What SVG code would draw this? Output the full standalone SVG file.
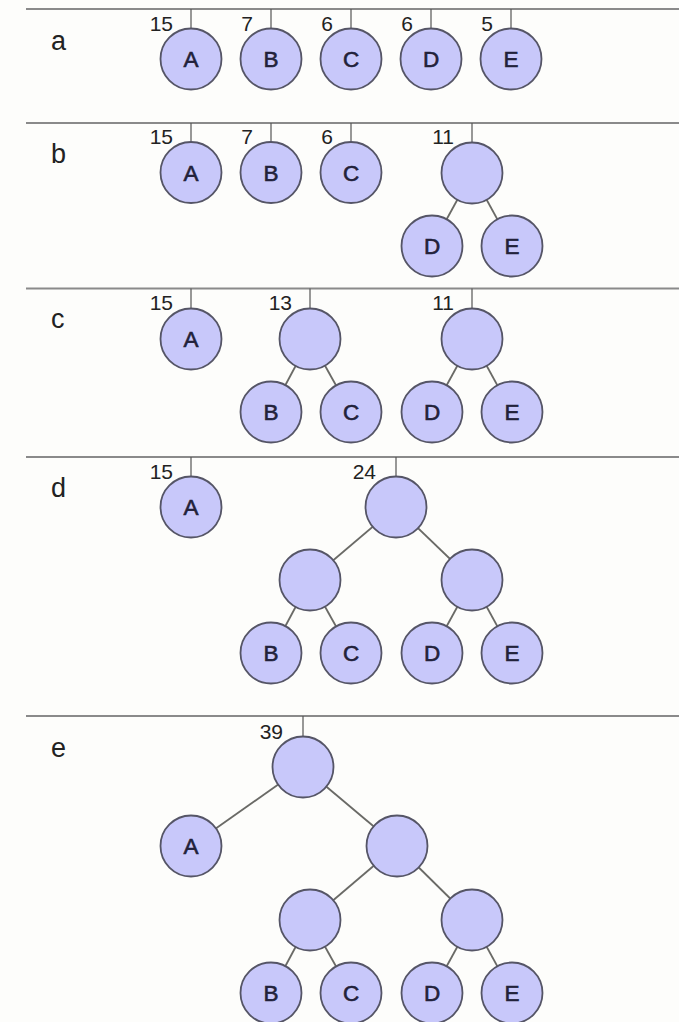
<svg xmlns="http://www.w3.org/2000/svg" width="679" height="1022" viewBox="0 0 679 1022">
<style>
.bg{fill:#fdfdfb}
.sep{stroke:#8a8a8a;stroke-width:2}
.tick{stroke:#555;stroke-width:1.2}
.edge{stroke:#6a6a66;stroke-width:1.8}
.n{fill:#c8c8fa;stroke:#555566;stroke-width:1.8}
.lt{font-family:"Liberation Sans",Arial,sans-serif;font-size:22.5px;fill:#22223a;stroke:#22223a;stroke-width:0.6;text-anchor:middle}
.num{font-family:"Liberation Sans",Arial,sans-serif;font-size:21px;fill:#222;text-anchor:end}
.sec{font-family:"Liberation Sans",Arial,sans-serif;font-size:27px;fill:#222}
</style>
<rect class="bg" x="0" y="0" width="679" height="1022"/>
<g id="separators">
<line class="sep" x1="26" y1="9" x2="679" y2="9"/>
<line class="sep" x1="26" y1="123" x2="679" y2="123"/>
<line class="sep" x1="26" y1="288.5" x2="679" y2="288.5"/>
<line class="sep" x1="26" y1="457" x2="679" y2="457"/>
<line class="sep" x1="26" y1="716" x2="679" y2="716"/>
</g>
<g id="section-labels">
<text class="sec" x="51" y="50">a</text>
<text class="sec" x="51" y="163">b</text>
<text class="sec" x="51" y="328">c</text>
<text class="sec" x="51" y="497">d</text>
<text class="sec" x="51" y="757">e</text>
</g>
<g id="connectors">
<line class="tick" x1="191" y1="9" x2="191" y2="29"/>
<line class="tick" x1="271" y1="9" x2="271" y2="29"/>
<line class="tick" x1="351" y1="9" x2="351" y2="29"/>
<line class="tick" x1="431" y1="9" x2="431" y2="29"/>
<line class="tick" x1="511" y1="9" x2="511" y2="29"/>
<line class="tick" x1="191" y1="123" x2="191" y2="143"/>
<line class="tick" x1="271" y1="123" x2="271" y2="143"/>
<line class="tick" x1="351" y1="123" x2="351" y2="143"/>
<line class="tick" x1="472" y1="123" x2="472" y2="143"/>
<line class="tick" x1="191" y1="288.5" x2="191" y2="309"/>
<line class="tick" x1="310" y1="288.5" x2="310" y2="309"/>
<line class="tick" x1="472" y1="288.5" x2="472" y2="309"/>
<line class="tick" x1="191" y1="457" x2="191" y2="477"/>
<line class="tick" x1="396" y1="457" x2="396" y2="477"/>
<line class="tick" x1="303" y1="716" x2="303" y2="737"/>
<line class="edge" x1="472" y1="173" x2="432" y2="246"/>
<line class="edge" x1="472" y1="173" x2="512" y2="246"/>
<line class="edge" x1="310" y1="339" x2="271" y2="412"/>
<line class="edge" x1="310" y1="339" x2="351" y2="412"/>
<line class="edge" x1="472" y1="339" x2="432" y2="412"/>
<line class="edge" x1="472" y1="339" x2="512" y2="412"/>
<line class="edge" x1="396" y1="507" x2="310" y2="580"/>
<line class="edge" x1="396" y1="507" x2="472" y2="580"/>
<line class="edge" x1="310" y1="580" x2="271" y2="653"/>
<line class="edge" x1="310" y1="580" x2="351" y2="653"/>
<line class="edge" x1="472" y1="580" x2="432" y2="653"/>
<line class="edge" x1="472" y1="580" x2="512" y2="653"/>
<line class="edge" x1="303" y1="767" x2="191" y2="846"/>
<line class="edge" x1="303" y1="767" x2="397" y2="846"/>
<line class="edge" x1="397" y1="846" x2="310" y2="920"/>
<line class="edge" x1="397" y1="846" x2="472" y2="920"/>
<line class="edge" x1="310" y1="920" x2="271" y2="993"/>
<line class="edge" x1="310" y1="920" x2="351" y2="993"/>
<line class="edge" x1="472" y1="920" x2="432" y2="993"/>
<line class="edge" x1="472" y1="920" x2="512" y2="993"/>
</g>
<g id="weights">
<text class="num" x="173" y="31">15</text>
<text class="num" x="253" y="31">7</text>
<text class="num" x="333" y="31">6</text>
<text class="num" x="413" y="31">6</text>
<text class="num" x="493" y="31">5</text>
<text class="num" x="173" y="144">15</text>
<text class="num" x="253" y="144">7</text>
<text class="num" x="333" y="144">6</text>
<text class="num" x="454" y="144">11</text>
<text class="num" x="173" y="310">15</text>
<text class="num" x="292" y="310">13</text>
<text class="num" x="454" y="310">11</text>
<text class="num" x="173" y="479">15</text>
<text class="num" x="376" y="479">24</text>
<text class="num" x="283" y="739">39</text>
</g>
<g id="section-a">
<g id="a-A"><circle class="n" cx="191" cy="59" r="30.5"/><text class="lt" x="191" y="67">A</text></g>
<g id="a-B"><circle class="n" cx="271" cy="59" r="30.5"/><text class="lt" x="271" y="67">B</text></g>
<g id="a-C"><circle class="n" cx="351" cy="59" r="30.5"/><text class="lt" x="351" y="67">C</text></g>
<g id="a-D"><circle class="n" cx="431" cy="59" r="30.5"/><text class="lt" x="431" y="67">D</text></g>
<g id="a-E"><circle class="n" cx="511" cy="59" r="30.5"/><text class="lt" x="511" y="67">E</text></g>
</g>
<g id="section-b">
<g id="b-A"><circle class="n" cx="191" cy="172.5" r="30.5"/><text class="lt" x="191" y="180.5">A</text></g>
<g id="b-B"><circle class="n" cx="271" cy="172.5" r="30.5"/><text class="lt" x="271" y="180.5">B</text></g>
<g id="b-C"><circle class="n" cx="351" cy="172.5" r="30.5"/><text class="lt" x="351" y="180.5">C</text></g>
<g id="b-DE"><circle class="n" cx="472" cy="173" r="30.5"/></g>
<g id="b-D"><circle class="n" cx="432" cy="246" r="30.5"/><text class="lt" x="432" y="254">D</text></g>
<g id="b-E"><circle class="n" cx="512" cy="246" r="30.5"/><text class="lt" x="512" y="254">E</text></g>
</g>
<g id="section-c">
<g id="c-A"><circle class="n" cx="191" cy="339" r="30.5"/><text class="lt" x="191" y="347">A</text></g>
<g id="c-BC"><circle class="n" cx="310" cy="339" r="30.5"/></g>
<g id="c-DE"><circle class="n" cx="472" cy="339" r="30.5"/></g>
<g id="c-B"><circle class="n" cx="271" cy="412" r="30.5"/><text class="lt" x="271" y="420">B</text></g>
<g id="c-C"><circle class="n" cx="351" cy="412" r="30.5"/><text class="lt" x="351" y="420">C</text></g>
<g id="c-D"><circle class="n" cx="432" cy="412" r="30.5"/><text class="lt" x="432" y="420">D</text></g>
<g id="c-E"><circle class="n" cx="512" cy="412" r="30.5"/><text class="lt" x="512" y="420">E</text></g>
</g>
<g id="section-d">
<g id="d-A"><circle class="n" cx="191" cy="507" r="30.5"/><text class="lt" x="191" y="515">A</text></g>
<g id="d-BCDE"><circle class="n" cx="396" cy="507" r="30.5"/></g>
<g id="d-BC"><circle class="n" cx="310" cy="580" r="30.5"/></g>
<g id="d-DE"><circle class="n" cx="472" cy="580" r="30.5"/></g>
<g id="d-B"><circle class="n" cx="271" cy="653" r="30.5"/><text class="lt" x="271" y="661">B</text></g>
<g id="d-C"><circle class="n" cx="351" cy="653" r="30.5"/><text class="lt" x="351" y="661">C</text></g>
<g id="d-D"><circle class="n" cx="432" cy="653" r="30.5"/><text class="lt" x="432" y="661">D</text></g>
<g id="d-E"><circle class="n" cx="512" cy="653" r="30.5"/><text class="lt" x="512" y="661">E</text></g>
</g>
<g id="section-e">
<g id="e-root"><circle class="n" cx="303" cy="767" r="30.5"/></g>
<g id="e-A"><circle class="n" cx="191" cy="846" r="30.5"/><text class="lt" x="191" y="854">A</text></g>
<g id="e-BCDE"><circle class="n" cx="397" cy="846" r="30.5"/></g>
<g id="e-BC"><circle class="n" cx="310" cy="920" r="30.5"/></g>
<g id="e-DE"><circle class="n" cx="472" cy="920" r="30.5"/></g>
<g id="e-B"><circle class="n" cx="271" cy="993" r="30.5"/><text class="lt" x="271" y="1001">B</text></g>
<g id="e-C"><circle class="n" cx="351" cy="993" r="30.5"/><text class="lt" x="351" y="1001">C</text></g>
<g id="e-D"><circle class="n" cx="432" cy="993" r="30.5"/><text class="lt" x="432" y="1001">D</text></g>
<g id="e-E"><circle class="n" cx="512" cy="993" r="30.5"/><text class="lt" x="512" y="1001">E</text></g>
</g>
</svg>
